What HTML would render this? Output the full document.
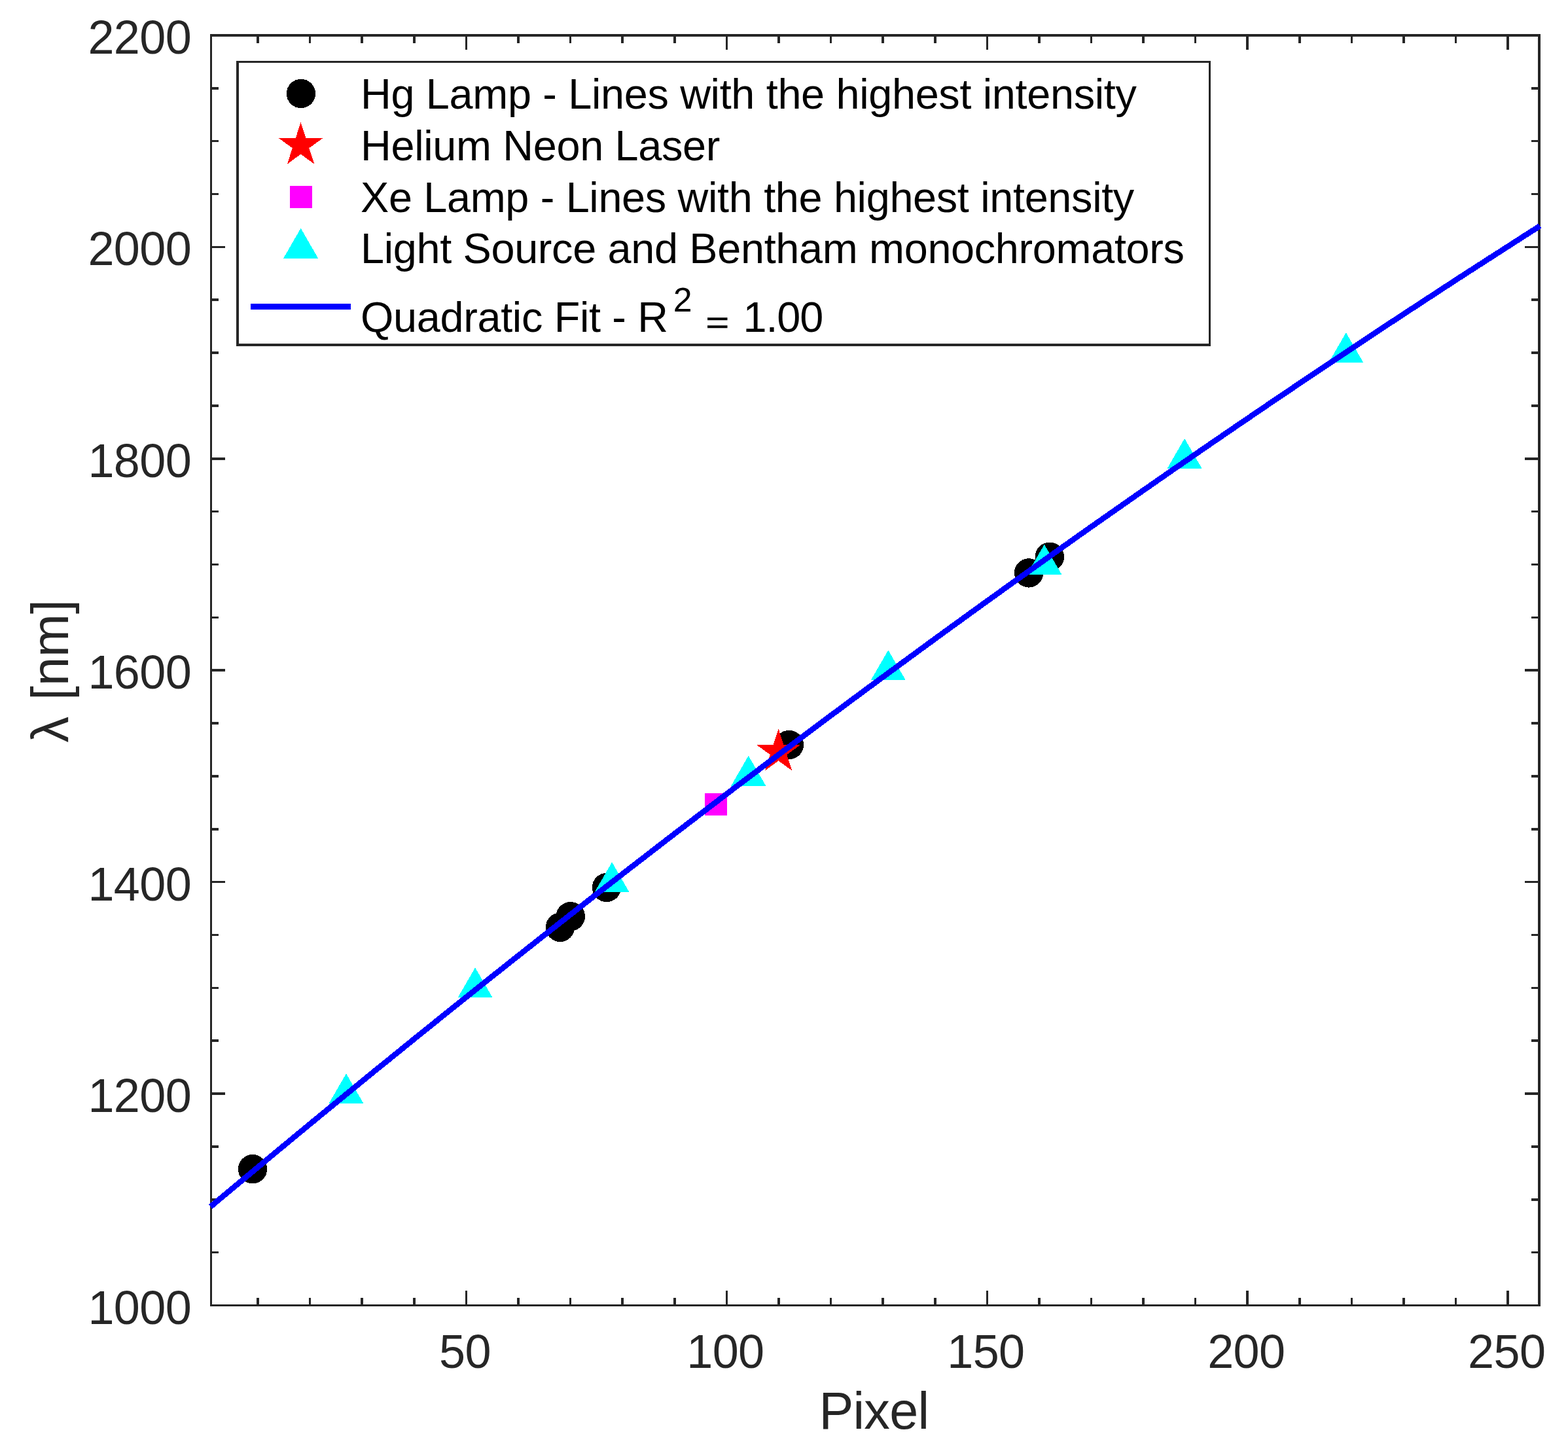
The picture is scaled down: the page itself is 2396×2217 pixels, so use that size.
<!DOCTYPE html>
<html lang="en"><head><meta charset="utf-8"><title>Wavelength calibration</title>
<style>html,body{margin:0;padding:0;background:#fff;}body{width:2396px;height:2217px;overflow:hidden;}svg{display:block;}text{font-family:"Liberation Sans",sans-serif;}.t{font-size:72px;fill:#262626;letter-spacing:-0.6px;}.l{font-size:79.2px;fill:#262626;letter-spacing:-0.75px;}.g{font-size:64.8px;fill:#000;letter-spacing:-0.33px;}.s{font-size:51.84px;fill:#000;}</style></head><body>
<svg width="2396" height="2217" viewBox="0 0 2396 2217" role="img" aria-label="Wavelength calibration: wavelength versus detector pixel">
<rect x="0" y="0" width="2396" height="2217" fill="#fff"/>
<g shape-rendering="crispEdges">
<rect x="321" y="52" width="3" height="1944" fill="#262626"/>
<rect x="2350" y="52" width="4" height="1944" fill="#262626"/>
<rect x="321" y="52" width="2033" height="4" fill="#262626"/>
<rect x="321" y="1993" width="2033" height="3" fill="#262626"/>
<rect x="392" y="56" width="4" height="10" fill="#262626"/>
<rect x="392" y="1983" width="4" height="10" fill="#262626"/>
<rect x="472" y="56" width="3" height="10" fill="#262626"/>
<rect x="472" y="1983" width="3" height="10" fill="#262626"/>
<rect x="551" y="56" width="4" height="10" fill="#262626"/>
<rect x="551" y="1983" width="4" height="10" fill="#262626"/>
<rect x="631" y="56" width="4" height="10" fill="#262626"/>
<rect x="631" y="1983" width="4" height="10" fill="#262626"/>
<rect x="711" y="56" width="3" height="20" fill="#262626"/>
<rect x="711" y="1972" width="3" height="21" fill="#262626"/>
<rect x="790" y="56" width="4" height="10" fill="#262626"/>
<rect x="790" y="1983" width="4" height="10" fill="#262626"/>
<rect x="870" y="56" width="3" height="10" fill="#262626"/>
<rect x="870" y="1983" width="3" height="10" fill="#262626"/>
<rect x="949" y="56" width="4" height="10" fill="#262626"/>
<rect x="949" y="1983" width="4" height="10" fill="#262626"/>
<rect x="1029" y="56" width="4" height="10" fill="#262626"/>
<rect x="1029" y="1983" width="4" height="10" fill="#262626"/>
<rect x="1109" y="56" width="3" height="20" fill="#262626"/>
<rect x="1109" y="1972" width="3" height="21" fill="#262626"/>
<rect x="1188" y="56" width="4" height="10" fill="#262626"/>
<rect x="1188" y="1983" width="4" height="10" fill="#262626"/>
<rect x="1268" y="56" width="3" height="10" fill="#262626"/>
<rect x="1268" y="1983" width="3" height="10" fill="#262626"/>
<rect x="1347" y="56" width="4" height="10" fill="#262626"/>
<rect x="1347" y="1983" width="4" height="10" fill="#262626"/>
<rect x="1427" y="56" width="4" height="10" fill="#262626"/>
<rect x="1427" y="1983" width="4" height="10" fill="#262626"/>
<rect x="1507" y="56" width="3" height="20" fill="#262626"/>
<rect x="1507" y="1972" width="3" height="21" fill="#262626"/>
<rect x="1586" y="56" width="4" height="10" fill="#262626"/>
<rect x="1586" y="1983" width="4" height="10" fill="#262626"/>
<rect x="1666" y="56" width="3" height="10" fill="#262626"/>
<rect x="1666" y="1983" width="3" height="10" fill="#262626"/>
<rect x="1745" y="56" width="4" height="10" fill="#262626"/>
<rect x="1745" y="1983" width="4" height="10" fill="#262626"/>
<rect x="1825" y="56" width="3" height="10" fill="#262626"/>
<rect x="1825" y="1983" width="3" height="10" fill="#262626"/>
<rect x="1904" y="56" width="4" height="20" fill="#262626"/>
<rect x="1904" y="1972" width="4" height="21" fill="#262626"/>
<rect x="1984" y="56" width="4" height="10" fill="#262626"/>
<rect x="1984" y="1983" width="4" height="10" fill="#262626"/>
<rect x="2064" y="56" width="3" height="10" fill="#262626"/>
<rect x="2064" y="1983" width="3" height="10" fill="#262626"/>
<rect x="2143" y="56" width="4" height="10" fill="#262626"/>
<rect x="2143" y="1983" width="4" height="10" fill="#262626"/>
<rect x="2223" y="56" width="3" height="10" fill="#262626"/>
<rect x="2223" y="1983" width="3" height="10" fill="#262626"/>
<rect x="2302" y="56" width="4" height="20" fill="#262626"/>
<rect x="2302" y="1972" width="4" height="21" fill="#262626"/>
<rect x="324" y="1912" width="10" height="3" fill="#262626"/>
<rect x="2340" y="1912" width="10" height="3" fill="#262626"/>
<rect x="324" y="1831" width="10" height="4" fill="#262626"/>
<rect x="2340" y="1831" width="10" height="4" fill="#262626"/>
<rect x="324" y="1750" width="10" height="4" fill="#262626"/>
<rect x="2340" y="1750" width="10" height="4" fill="#262626"/>
<rect x="324" y="1669" width="20" height="4" fill="#262626"/>
<rect x="2330" y="1669" width="20" height="4" fill="#262626"/>
<rect x="324" y="1588" width="10" height="4" fill="#262626"/>
<rect x="2340" y="1588" width="10" height="4" fill="#262626"/>
<rect x="324" y="1508" width="10" height="3" fill="#262626"/>
<rect x="2340" y="1508" width="10" height="3" fill="#262626"/>
<rect x="324" y="1427" width="10" height="3" fill="#262626"/>
<rect x="2340" y="1427" width="10" height="3" fill="#262626"/>
<rect x="324" y="1346" width="20" height="3" fill="#262626"/>
<rect x="2330" y="1346" width="20" height="3" fill="#262626"/>
<rect x="324" y="1265" width="10" height="4" fill="#262626"/>
<rect x="2340" y="1265" width="10" height="4" fill="#262626"/>
<rect x="324" y="1184" width="10" height="4" fill="#262626"/>
<rect x="2340" y="1184" width="10" height="4" fill="#262626"/>
<rect x="324" y="1103" width="10" height="4" fill="#262626"/>
<rect x="2340" y="1103" width="10" height="4" fill="#262626"/>
<rect x="324" y="1022" width="20" height="4" fill="#262626"/>
<rect x="2330" y="1022" width="20" height="4" fill="#262626"/>
<rect x="324" y="942" width="10" height="3" fill="#262626"/>
<rect x="2340" y="942" width="10" height="3" fill="#262626"/>
<rect x="324" y="861" width="10" height="3" fill="#262626"/>
<rect x="2340" y="861" width="10" height="3" fill="#262626"/>
<rect x="324" y="780" width="10" height="3" fill="#262626"/>
<rect x="2340" y="780" width="10" height="3" fill="#262626"/>
<rect x="324" y="699" width="20" height="4" fill="#262626"/>
<rect x="2330" y="699" width="20" height="4" fill="#262626"/>
<rect x="324" y="618" width="10" height="4" fill="#262626"/>
<rect x="2340" y="618" width="10" height="4" fill="#262626"/>
<rect x="324" y="537" width="10" height="4" fill="#262626"/>
<rect x="2340" y="537" width="10" height="4" fill="#262626"/>
<rect x="324" y="456" width="10" height="4" fill="#262626"/>
<rect x="2340" y="456" width="10" height="4" fill="#262626"/>
<rect x="324" y="376" width="20" height="3" fill="#262626"/>
<rect x="2330" y="376" width="20" height="3" fill="#262626"/>
<rect x="324" y="295" width="10" height="3" fill="#262626"/>
<rect x="2340" y="295" width="10" height="3" fill="#262626"/>
<rect x="324" y="214" width="10" height="3" fill="#262626"/>
<rect x="2340" y="214" width="10" height="3" fill="#262626"/>
<rect x="324" y="133" width="10" height="4" fill="#262626"/>
<rect x="2340" y="133" width="10" height="4" fill="#262626"/>
</g>
<text class="t" text-anchor="end" x="292.2" y="2022.5">1000</text>
<text class="t" text-anchor="end" x="292.2" y="1699.08">1200</text>
<text class="t" text-anchor="end" x="292.2" y="1375.67">1400</text>
<text class="t" text-anchor="end" x="292.2" y="1052.25">1600</text>
<text class="t" text-anchor="end" x="292.2" y="728.833">1800</text>
<text class="t" text-anchor="end" x="292.2" y="405.417">2000</text>
<text class="t" text-anchor="end" x="292.2" y="82">2200</text>
<text class="t" text-anchor="middle" x="710.482" y="2089.6">50</text>
<text class="t" text-anchor="middle" x="1108.42" y="2089.6">100</text>
<text class="t" text-anchor="middle" x="1506.36" y="2089.6">150</text>
<text class="t" text-anchor="middle" x="1904.31" y="2089.6">200</text>
<text class="t" text-anchor="middle" x="2302.25" y="2089.6">250</text>
<text class="l" text-anchor="middle" x="1335.4" y="2183.3">Pixel</text>
<text class="l" style="letter-spacing:0" transform="translate(104,0) rotate(-90)" y="0"><tspan x="-1134.5">λ</tspan> <tspan x="-1070">[nm]</tspan></text>
<g shape-rendering="crispEdges">
<circle cx="386" cy="1786.2" r="22.2" fill="#000"/>
<circle cx="856" cy="1416.8" r="22.2" fill="#000"/>
<circle cx="871.8" cy="1400.2" r="22.2" fill="#000"/>
<circle cx="927" cy="1356" r="22.2" fill="#000"/>
<circle cx="1205.9" cy="1138" r="22.2" fill="#000"/>
<circle cx="1572.1" cy="875.4" r="22.2" fill="#000"/>
<circle cx="1603.9" cy="850.7" r="22.2" fill="#000"/>
<polygon points="1189.6,1113.6 1197.5,1138.0 1223.2,1138.0 1202.4,1153.1 1210.3,1177.5 1189.6,1162.4 1168.9,1177.5 1176.8,1153.1 1156.0,1138.0 1181.7,1138.0" fill="#f00"/>
<rect x="1077" y="1212" width="34" height="34" fill="#f0f"/>
<polygon points="529.0,1640.3 502.4,1686.3 555.6,1686.3" fill="#0ff"/>
<polygon points="726.1,1478.4 699.5,1524.4 752.7,1524.4" fill="#0ff"/>
<polygon points="935.1,1317.3 908.5,1363.3 961.7,1363.3" fill="#0ff"/>
<polygon points="1143.7,1154.7 1117.1,1200.8 1170.3,1200.8" fill="#0ff"/>
<polygon points="1357.3,993.3 1330.7,1039.3 1383.9,1039.3" fill="#0ff"/>
<polygon points="1595.8,831.8 1569.2,877.9 1622.4,877.9" fill="#0ff"/>
<polygon points="1810.1,669.9 1783.5,716.0 1836.7,716.0" fill="#0ff"/>
<polygon points="2056.8,508.2 2030.2,554.2 2083.4,554.2" fill="#0ff"/>
<path d="M321.8,1843.7 L347.5,1822.2 L373.2,1800.7 L398.9,1779.3 L424.7,1757.9 L450.4,1736.6 L476.1,1715.4 L501.8,1694.3 L527.5,1673.2 L553.2,1652.2 L578.9,1631.2 L604.7,1610.4 L630.4,1589.5 L656.1,1568.8 L681.8,1548.1 L707.5,1527.5 L733.2,1506.9 L758.9,1486.5 L784.7,1466.0 L810.4,1445.7 L836.1,1425.4 L861.8,1405.2 L887.5,1385.0 L913.2,1364.9 L938.9,1344.9 L964.6,1325.0 L990.4,1305.1 L1016.1,1285.2 L1041.8,1265.5 L1067.5,1245.8 L1093.2,1226.2 L1118.9,1206.6 L1144.6,1187.1 L1170.4,1167.7 L1196.1,1148.3 L1221.8,1129.0 L1247.5,1109.8 L1273.2,1090.6 L1298.9,1071.5 L1324.6,1052.5 L1350.4,1033.5 L1376.1,1014.6 L1401.8,995.8 L1427.5,977.0 L1453.2,958.3 L1478.9,939.7 L1504.6,921.1 L1530.4,902.6 L1556.1,884.1 L1581.8,865.8 L1607.5,847.4 L1633.2,829.2 L1658.9,811.0 L1684.6,792.9 L1710.4,774.9 L1736.1,756.9 L1761.8,739.0 L1787.5,721.1 L1813.2,703.4 L1838.9,685.6 L1864.6,668.0 L1890.3,650.4 L1916.1,632.9 L1941.8,615.4 L1967.5,598.1 L1993.2,580.7 L2018.9,563.5 L2044.6,546.3 L2070.3,529.2 L2096.1,512.1 L2121.8,495.1 L2147.5,478.2 L2173.2,461.4 L2198.9,444.6 L2224.6,427.8 L2250.3,411.2 L2276.1,394.6 L2301.8,378.1 L2327.5,361.6 L2353.2,345.2" fill="none" stroke="#00f" stroke-width="8.6" stroke-linejoin="round"/>
</g>
<g shape-rendering="crispEdges">
<rect x="361" y="93" width="1489" height="436" fill="#262626"/>
<rect x="365" y="96" width="1482" height="429" fill="#fff"/>
<circle cx="460" cy="143" r="22.2" fill="#000"/>
<polygon points="459.6,186.8 467.5,211.2 493.2,211.2 472.4,226.3 480.3,250.7 459.6,235.6 438.9,250.7 446.8,226.3 426.0,211.2 451.7,211.2" fill="#f00"/>
<rect x="443" y="284" width="34" height="34" fill="#f0f"/>
<polygon points="459.6,348.7 433.0,394.8 486.2,394.8" fill="#0ff"/>
<rect x="383" y="464" width="153" height="9" fill="#00f"/>
</g>
<text class="g" x="551" y="166.1">Hg Lamp - Lines with the highest intensity</text>
<text class="g" x="551" y="245.2">Helium Neon Laser</text>
<text class="g" x="551" y="324">Xe Lamp - Lines with the highest intensity</text>
<text class="g" x="551" y="402.2">Light Source and Bentham monochromators</text>
<text class="g" x="551" y="507.3">Quadratic Fit - R</text>
<text class="s" x="1028.7" y="476.1">2</text>
<text class="g" transform="translate(1078.4,508.9) scale(0.94,0.74)" x="0" y="0" stroke="#000" stroke-width="0.9">=</text>
<text class="g" style="letter-spacing:-1.1px" x="1135.5" y="507.3">1.00</text>
</svg></body></html>
